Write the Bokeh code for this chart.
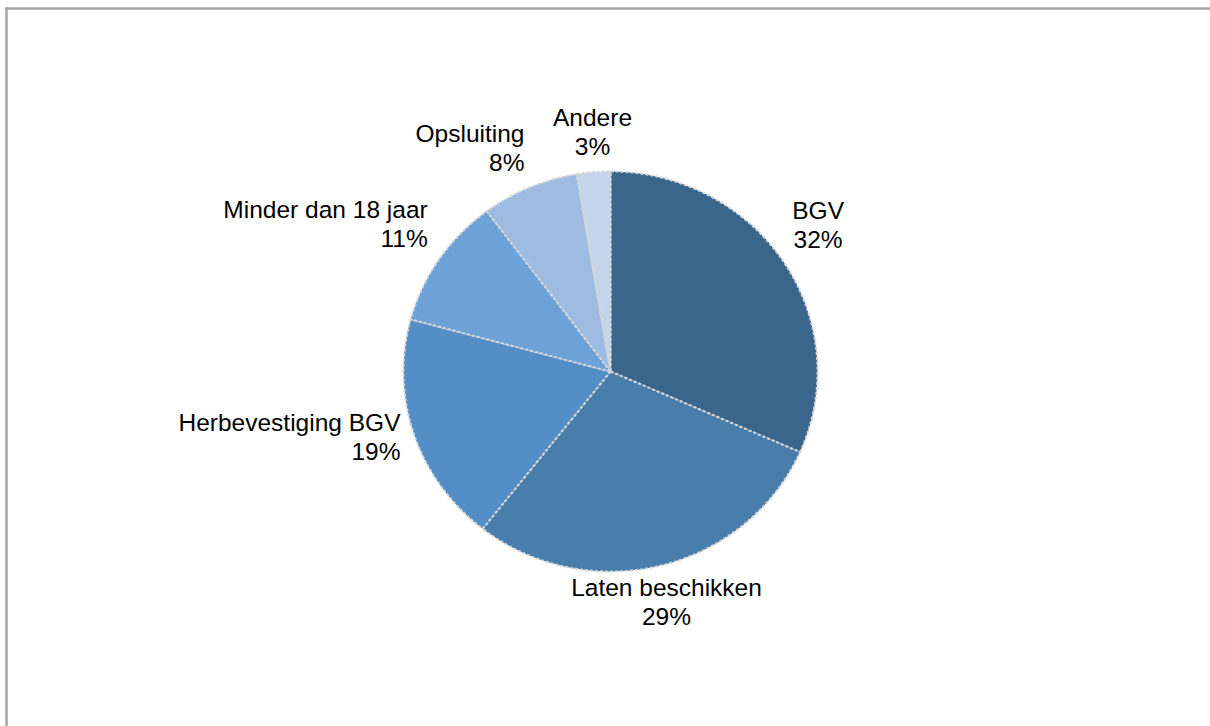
import numpy as np
from bokeh.plotting import figure
from bokeh.models import Range1d, ColumnDataSource
from bokeh.core.properties import value
from bokeh.embed import file_html
from bokeh.resources import INLINE

# ---- data ----
categories = ["BGV", "Laten beschikken", "Herbevestiging BGV",
              "Minder dan 18 jaar", "Opsluiting", "Andere"]
shares = [31.6, 29.0, 18.6, 10.6, 7.6, 2.6]
colors = ["#3A668C", "#487DAC", "#538EC6", "#6CA2D8", "#9EBCE2", "#C4D5EB"]

# ---- layout (screen pixel space) ----
cx, cy = 610.0, 371.0
rx, ry = 207.0, 200.0
label_r = [254.0, 237.0, 220.0, 235.0, 239.5, 240.0]
label_dtheta = [2.05, -0.37, -1.04, -4.72, -1.99, -0.38]
label_align = ["center", "center", "right", "right", "right", "center"]
line_gap = 28.5

W, H = 1210, 726

vals = np.array(shares, dtype=float)
frac = vals / vals.sum()
cum_end = np.cumsum(frac)
cum_start = cum_end - frac
# clockwise from top
a_start = np.pi / 2 - cum_start * 2 * np.pi
a_end = np.pi / 2 - cum_end * 2 * np.pi
a_mid = (a_start + a_end) / 2

xs, ys = [], []
for s, e in zip(a_start, a_end):
    n = max(int(abs(e - s) / (np.pi / 180)) * 2, 8)
    t = np.linspace(s, e, n)
    px = np.concatenate([[cx], cx + rx * np.cos(t), [cx]])
    py = np.concatenate([[cy], cy - ry * np.sin(t), [cy]])
    xs.append(px.tolist())
    ys.append(py.tolist())

p = figure(width=W, height=H, x_range=Range1d(0, W), y_range=Range1d(H, 0),
           output_backend="svg", toolbar_location=None, min_border=0)
p.outline_line_color = None
p.xaxis.visible = False
p.yaxis.visible = False
p.xgrid.visible = False
p.ygrid.visible = False
p.background_fill_color = "white"
p.border_fill_color = "white"

# chart frame (left and top edges visible in the crop)
p.line([6, 6], [7, H], line_color="#A6A6A6", line_width=2.5)
p.line([5, W], [8, 8], line_color="#A6A6A6", line_width=2.5)

src = ColumnDataSource(dict(xs=xs, ys=ys, color=colors))
p.patches("xs", "ys", source=src, fill_color="color", line_color="#D6D6D6",
          line_width=2, line_dash="3 2")

lx, ly, names, pcts = [], [], [], []
for i in range(len(categories)):
    th = a_mid[i] + np.deg2rad(label_dtheta[i])
    lx.append(cx + label_r[i] * np.cos(th))
    ly.append(cy - label_r[i] * np.sin(th))
    names.append(categories[i])
    pcts.append(f"{int(round(frac[i] * 100))}%")

for align in ["center", "right"]:
    idx = [i for i in range(len(categories)) if label_align[i] == align]
    d = dict(x=[lx[i] for i in idx],
             y1=[ly[i] - line_gap / 2 for i in idx],
             y2=[ly[i] + line_gap / 2 for i in idx],
             name=[names[i] for i in idx],
             pct=[pcts[i] for i in idx])
    s = ColumnDataSource(d)
    for ycol, tcol in [("y1", "name"), ("y2", "pct")]:
        p.text(x="x", y=ycol, text=tcol, source=s, text_align=align,
               text_baseline="middle", text_font=value("Liberation Sans"),
               text_font_size="24.5px", text_color="#000000")

open("out.html", "w").write(file_html(p, INLINE))
